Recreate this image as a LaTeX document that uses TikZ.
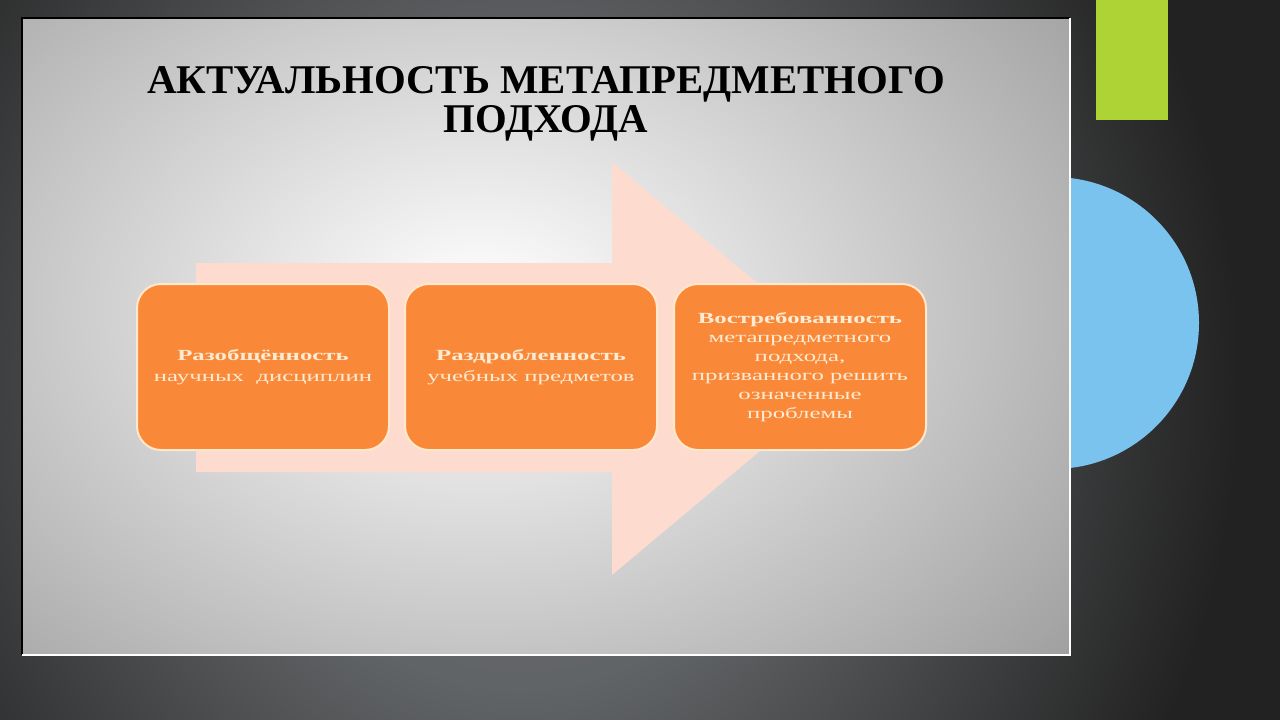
\documentclass[tikz,border=0pt]{standalone}
\usepackage{fontspec}
\setmainfont{Liberation Serif}
\newfontfamily\boxfont[FakeStretch=1.6]{Liberation Serif}
\definecolor{bgdark}{HTML}{222222}
\definecolor{bgmid}{HTML}{6C6F72}
\definecolor{slidegrey}{HTML}{A0A0A0}
\definecolor{arrowpink}{HTML}{FDDBCF}
\definecolor{boxorange}{HTML}{F98939}
\definecolor{boxedge}{HTML}{FFE8CC}
\definecolor{boxtext}{HTML}{FDEBD3}
\definecolor{limegreen}{HTML}{ADD334}
\definecolor{skyblue}{HTML}{79C3EE}
\pgfdeclareradialshading{bgshade}{\pgfpoint{0bp}{0bp}}{color(0bp)=(bgmid); color(7bp)=(bgmid!85!bgdark); color(18bp)=(bgdark); color(50bp)=(bgdark)}
\pgfdeclareradialshading{slideshade}{\pgfpoint{0bp}{0bp}}{color(0bp)=(white); color(2bp)=(white!97!black); color(21bp)=(slidegrey); color(50bp)=(slidegrey)}
\tikzset{
  card/.style={draw=boxedge, line width=2pt, fill=boxorange, rounded corners=24pt,
    minimum width=252pt, minimum height=166pt, inner sep=0pt},
  cardtext/.style={text=boxtext, align=center, font=\boxfont\fontsize{15.5}{21}\selectfont},
  titletext/.style={font=\bfseries\fontsize{40.8}{42}\selectfont, text=black, anchor=base}
}
\begin{document}
\begin{tikzpicture}[x=1pt,y=-1pt]
\useasboundingbox (0,0) rectangle (1280,720);
% background
\begin{scope}
\clip (0,0) rectangle (1280,720);
\fill[bgdark] (0,0) rectangle (1280,720);
\shade[shading=bgshade] (520,380) ellipse (1000 and 1100);
\end{scope}
% decorations at right
\fill[limegreen] (1096,0) rectangle (1168,120);
\fill[skyblue] (1053,323) circle (146);
% slide
\begin{scope}
\clip (22,18) rectangle (1070,655);
\fill[slidegrey] (22,18) rectangle (1070,655);
\shade[shading=slideshade] (480,310) ellipse (900 and 650);
\end{scope}
\draw[black, line width=1.5pt] (22,655) -- (22,18) -- (1070,18);
\draw[white, line width=1.2pt] (22,655) -- (1070,655) -- (1070,18);
% title
\node[titletext] (title1) at (546,93) {АКТУАЛЬНОСТЬ МЕТАПРЕДМЕТНОГО};
\node[titletext] (title2) at (546,132) {ПОДХОДА};
% big arrow
\fill[arrowpink] (196,263) -- (612,263) -- (612,162) -- (859,368) -- (612,575) -- (612,472) -- (196,472) -- cycle;
% cards
\node[card] (b1) at (263,367) {};
\node[card] (b2) at (531,367) {};
\node[card] (b3) at (800,367) {};
\node[cardtext] (t1) at (b1.center) {\textbf{Разобщённость}\\научных\ \ дисциплин};
\node[cardtext] (t2) at (b2.center) {\textbf{Раздробленность}\\учебных предметов};
\node[cardtext, font=\boxfont\fontsize{15.5}{19}\selectfont] (t3) at (b3.center) {\textbf{Востребованность}\\метапредметного\\подхода,\\призванного решить\\означенные\\проблемы};
\end{tikzpicture}
\end{document}
